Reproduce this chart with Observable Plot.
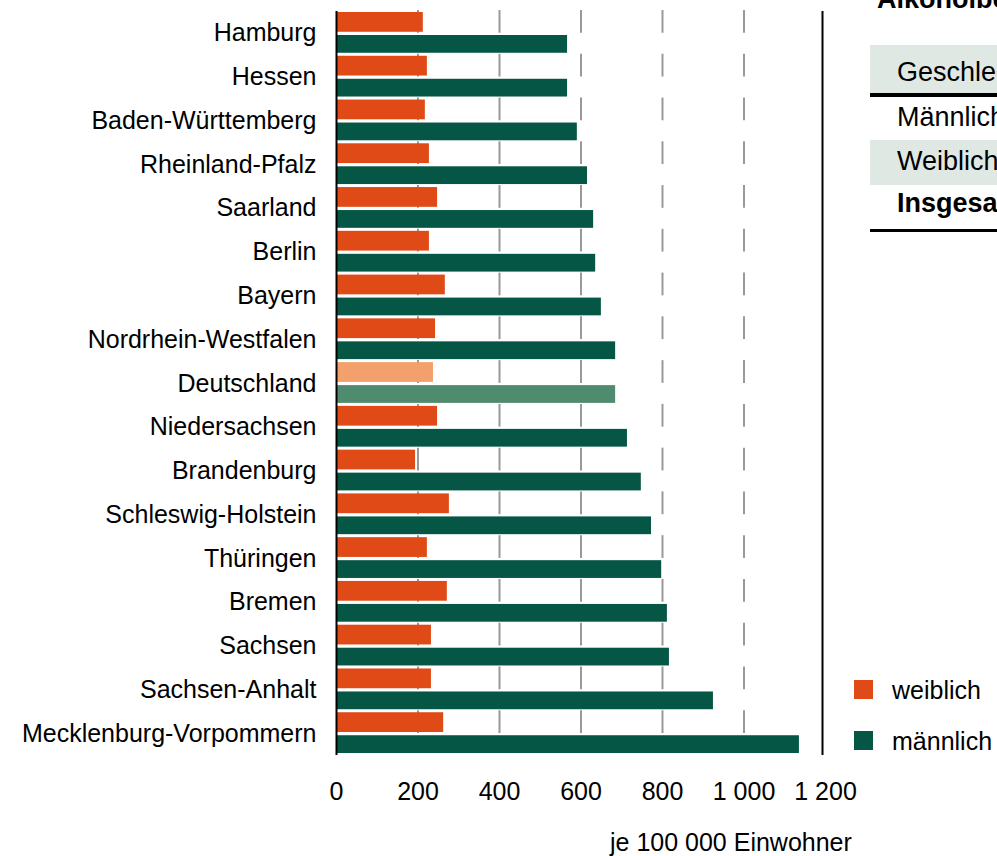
<!DOCTYPE html>
<html><head><meta charset="utf-8">
<script src="https://cdn.jsdelivr.net/npm/d3@7"></script>
<script src="https://cdn.jsdelivr.net/npm/@observablehq/plot@0.6"></script>
<style>
html,body{margin:0;padding:0;background:#fff;overflow:hidden;}
#wrap{position:relative;width:997px;height:856px;overflow:hidden;font-family:Arial,"Liberation Sans",sans-serif;color:#000;}
#wrap svg{position:absolute;left:0;top:0;}
.abs{position:absolute;white-space:nowrap;font-size:25px;line-height:1;}
.tb{font-size:27px;}
.sw{position:absolute;width:19px;height:19px;}
</style></head>
<body><div id="wrap"></div>
<script>
const categories = ["Hamburg","Hessen","Baden-Württemberg","Rheinland-Pfalz","Saarland","Berlin","Bayern","Nordrhein-Westfalen","Deutschland","Niedersachsen","Brandenburg","Schleswig-Holstein","Thüringen","Bremen","Sachsen","Sachsen-Anhalt","Mecklenburg-Vorpommern"];
const weiblich = [213,223,218,228,248,228,267,243,238,248,194,277,223,272,233,233,263];
const maennlich = [567,567,591,616,631,636,650,685,685,714,748,773,798,812,817,925,1136];
const xTicks = [0,200,400,600,800,1000,1200];
const gridTicks = [200,400,600,800,1000];
const highlight = "Deutschland";
const tableRows = ["Geschlecht","Männlich","Weiblich","Insgesamt"];
const legendLabels = ["weiblich","männlich"];

const rows = categories.map((c,i)=>({cat:c, f:weiblich[i], m:maennlich[i]}));
const grid = categories.flatMap(c => gridTicks.map(v => ({cat:c, v})));
const fmt = d => d3.format(",")(d).replace(/,/g," ");

const chart = Plot.plot({
  width: 997, height: 856,
  marginLeft: 336, marginRight: 172, marginTop: 11, marginBottom: 101,
  style: {fontSize: "25px", fontFamily: "Arial, 'Liberation Sans', sans-serif", color: "#000", background: "transparent"},
  x: {domain: [0,1200]},
  y: {domain: categories, padding: 0, round: false},
  marks: [
    Plot.tickX(grid, {x: "v", y: "cat", stroke: "#999", strokeWidth: 2, insetTop: -1, insetBottom: 22}),
    Plot.barX(rows, {y: "cat", x: "f", fill: d => d.cat === highlight ? "#f4a06c" : "#df4a16", insetTop: 1, insetBottom: 23}),
    Plot.barX(rows, {y: "cat", x: "m", fill: d => d.cat === highlight ? "#4f8b6f" : "#055645", insetTop: 24, insetBottom: 2}),
    Plot.ruleX([0], {stroke: "#000", strokeWidth: 2}),
    Plot.ruleX([1200], {stroke: "#000", strokeWidth: 2, dx: -3}),
    Plot.axisX({ticks: xTicks, tickFormat: fmt, tickSize: 0, tickPadding: 27, fontSize: 25, label: null}),
    Plot.axisY({tickSize: 0, tickPadding: 20, fontSize: 25, label: null})
  ]
});
const wrap = document.getElementById("wrap");
wrap.appendChild(chart);

function add(html, style, cls="abs"){ const d=document.createElement("div"); d.className=cls; d.innerHTML=html; Object.assign(d.style, style); wrap.appendChild(d); return d;}
// clipped title
add("Alkoholbedingte Krankenhausfälle 2021", {left:"877px", top:"-14px", fontWeight:"bold", fontSize:"27px"});
// table
add("", {left:"870px", top:"45px", width:"200px", height:"48px", background:"#dfe8e3"});
add("", {left:"870px", top:"93px", width:"200px", height:"4px", background:"#000"});
add("", {left:"870px", top:"140px", width:"200px", height:"45px", background:"#dfe8e3"});
add("", {left:"870px", top:"229px", width:"200px", height:"3px", background:"#000"});
const tops = [59,104,148,190];
tableRows.forEach((t,i)=> add(t, {left:"897px", top: tops[i]+"px", fontWeight: i===3 ? "bold" : "normal"}, "abs tb"));
// legend
add("", {left:"854px", top:"680px", background:"#df4a16"}, "sw");
add("", {left:"854px", top:"731px", background:"#055645"}, "sw");
add(legendLabels[0], {left:"892px", top:"678px"});
add(legendLabels[1], {left:"892px", top:"729px"});
// unit label
add("je 100 000 Einwohner", {left:"610px", top:"830px"});
</script></body></html>
